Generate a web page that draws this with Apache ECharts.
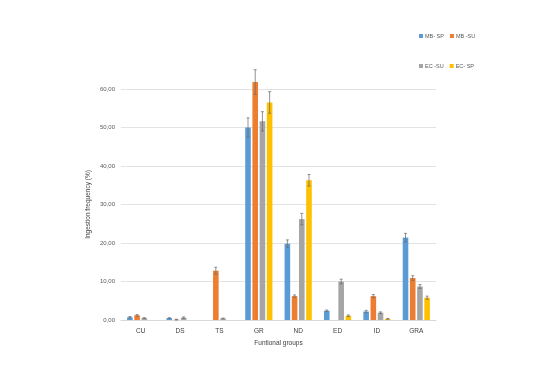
<!DOCTYPE html>
<html><head><meta charset="utf-8">
<script src="https://cdn.jsdelivr.net/npm/echarts@6/dist/echarts.min.js"></script>
<style>html,body{margin:0;padding:0;background:#fff}#c{width:551px;height:366px}</style>
</head><body><div id="c"></div>
<script>
const categories = ['CU','DS','TS','GR','ND','ED','ID','GRA'];
const seriesNames = ['MB- SP','MB -SU','EC -SU','EC- SP'];
const mbSP = [0.7, 0.5, 0, 50.0, 19.8, 2.4, 2.2, 21.4];
const mbSU = [1.2, 0.1, 12.8, 61.8, 6.2, 0, 6.2, 10.9];
const ecSU = [0.5, 0.6, 0.4, 51.6, 26.2, 10.0, 1.9, 8.7];
const ecSP = [0, 0, 0, 56.5, 36.3, 1.1, 0.3, 5.8];
const errMbSP = [0.2, 0.1, 0, 2.5, 1.0, 0.2, 0.3, 1.1];
const errMbSU = [0.2, 0.1, 0.9, 3.2, 0.3, 0, 0.4, 0.6];
const errEcSU = [0.1, 0.2, 0.1, 2.5, 1.5, 0.6, 0.2, 0.5];
const errEcSP = [0, 0, 0, 2.8, 1.5, 0.2, 0.1, 0.4];
const yTicks = [0, 10, 20, 30, 40, 50, 60];

const values = [mbSP, mbSU, ecSU, ecSP];
const errs = [errMbSP, errMbSU, errEcSU, errEcSP];
const colors = ['#5b9bd5','#ed7d31','#a5a5a5','#ffc000'];
const BW = 5.6, GAP = 1.6;

const chart = echarts.init(document.getElementById('c'));
const series = [];
values.forEach((v, i) => {
  series.push({
    name: seriesNames[i], type: 'bar', data: v, barWidth: BW, barGap: (GAP / BW * 100) + '%',
    itemStyle: { color: colors[i] }, clip: false, z: 2
  });
});
values.forEach((v, i) => {
  series.push({
    type: 'custom', clip: false, z: 5, silent: true,
    data: v.map((val, j) => [j, val, errs[i][j]]),
    renderItem: function (params, api) {
      const e = api.value(2);
      if (!e) return null;
      const val = api.value(1);
      const c = api.coord([api.value(0), val]);
      const hi = api.coord([api.value(0), val + e]);
      const lo = api.coord([api.value(0), val - e]);
      const x = c[0] + (i - 1.5) * (BW + GAP);
      const st = { stroke: 'rgba(110,110,110,0.75)', lineWidth: 1 };
      return { type: 'group', children: [
        { type: 'line', shape: { x1: x, y1: hi[1], x2: x, y2: lo[1] }, style: st },
        { type: 'line', shape: { x1: x - 1.5, y1: hi[1], x2: x + 1.5, y2: hi[1] }, style: st },
        { type: 'line', shape: { x1: x - 1.5, y1: lo[1], x2: x + 1.5, y2: lo[1] }, style: st }
      ]};
    }
  });
});
const legText = { fontSize: 5.5, color: '#595959', fontFamily: 'Liberation Sans', padding: [0, 0, 0, -3] };
chart.setOption({
  animation: false,
  color: colors,
  legend: [
    { data: seriesNames.slice(0, 2), left: 419, top: 33, itemWidth: 4, itemHeight: 4, itemGap: 6, icon: 'rect', textStyle: legText, padding: 0 },
    { data: seriesNames.slice(2), left: 419, top: 63, itemWidth: 4, itemHeight: 4, itemGap: 6, icon: 'rect', textStyle: legText, padding: 0 }
  ],
  grid: { left: 121, right: 115, top: 89, bottom: 46, containLabel: false },
  xAxis: {
    type: 'category', data: categories,
    axisLine: { lineStyle: { color: '#d9d9d9' } }, axisTick: { show: false },
    axisLabel: { fontSize: 6.5, color: '#404040', margin: 8, fontFamily: 'Liberation Sans' },
    name: 'Funtional groups', nameLocation: 'middle', nameGap: 15,
    nameTextStyle: { fontSize: 6.5, color: '#404040', fontFamily: 'Liberation Sans' }
  },
  yAxis: {
    type: 'value', min: 0, max: 60, interval: 10,
    axisLine: { show: false }, axisTick: { show: false },
    splitLine: { lineStyle: { color: '#e3e3e3' } },
    axisLabel: { fontSize: 6, color: '#595959', margin: 6, fontFamily: 'Liberation Sans',
      formatter: v => yTicks.includes(v) ? v.toFixed(2).replace('.', ',') : '' },
    name: 'Ingestion frequency (%)', nameLocation: 'middle', nameGap: 29, nameRotate: 90,
    nameMoveOverlap: false,
    nameTextStyle: { fontSize: 6.5, color: '#404040', fontFamily: 'Liberation Sans' }
  },
  series: series
});
</script></body></html>
